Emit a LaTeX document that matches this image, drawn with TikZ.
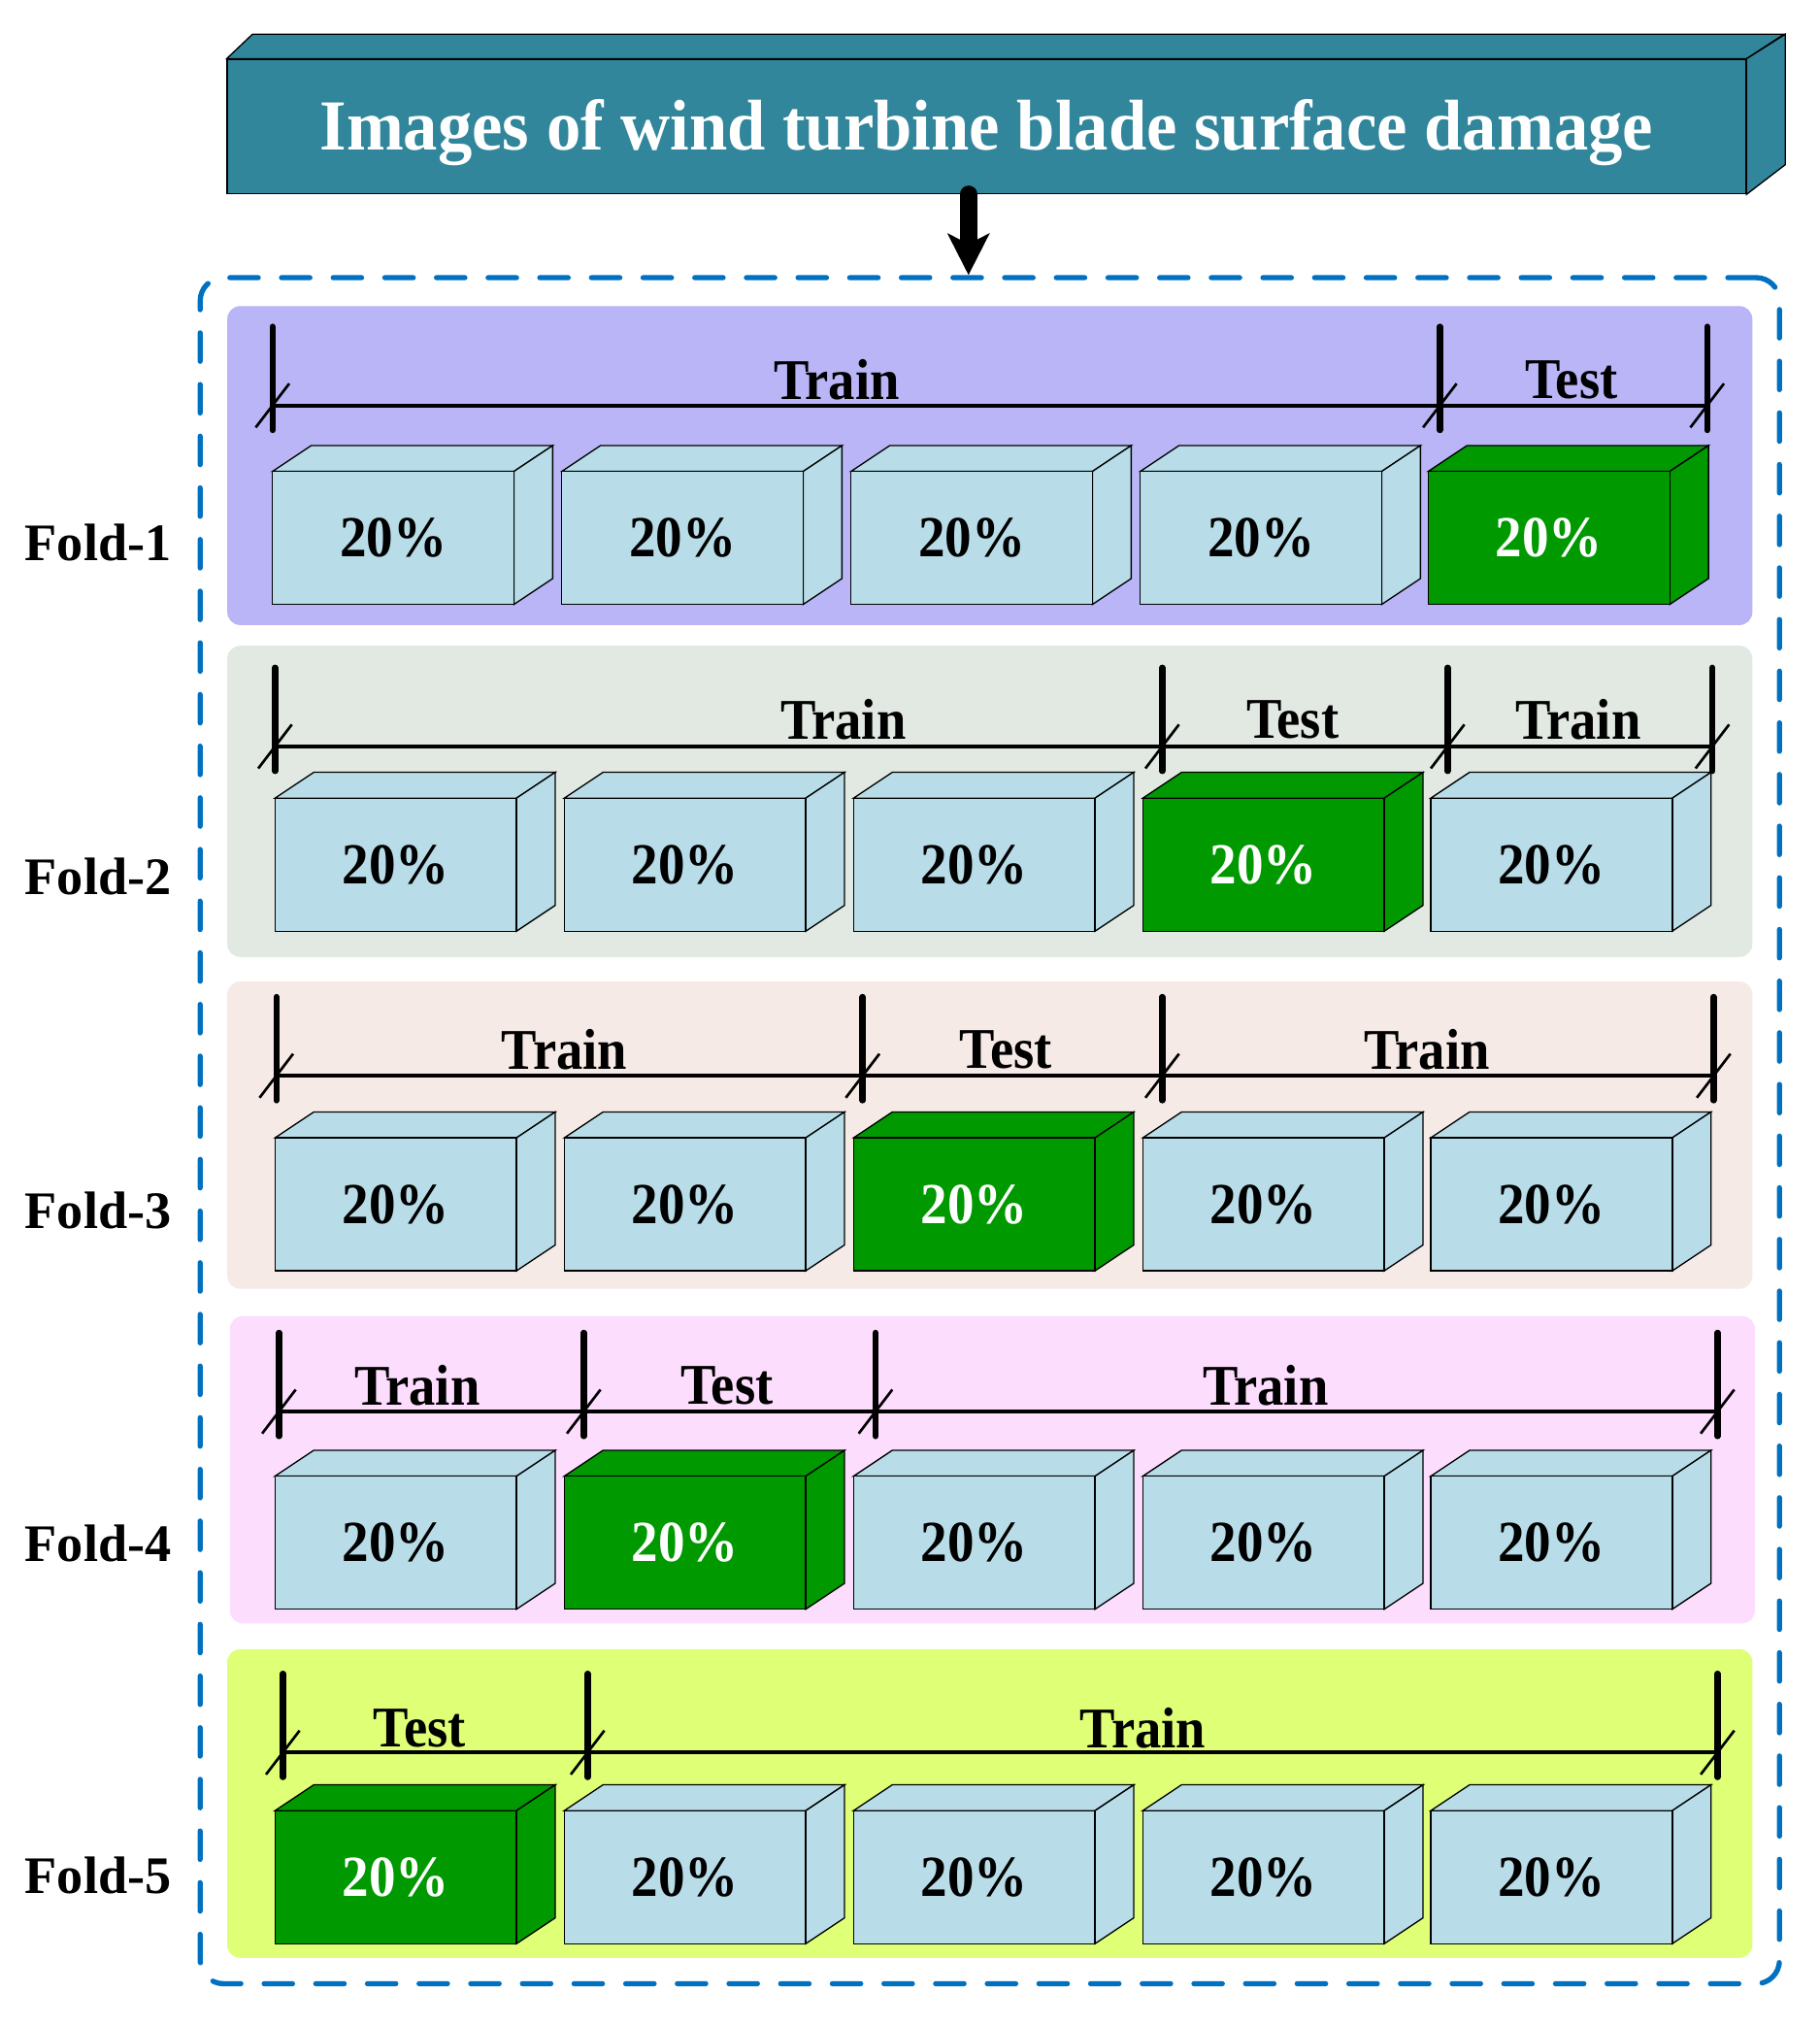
\documentclass[tikz,border=0pt]{standalone}
\usepackage{fontspec}
\setmainfont{Liberation Serif}
\usetikzlibrary{arrows.meta}
\definecolor{titleteal}{RGB}{49,134,155}
\definecolor{frameblue}{RGB}{0,112,192}
\definecolor{cubeblue}{RGB}{184,221,232}
\definecolor{testgreen}{RGB}{0,153,0}
\definecolor{foldA}{RGB}{185,181,247}
\definecolor{foldB}{RGB}{226,233,226}
\definecolor{foldC}{RGB}{246,234,230}
\definecolor{foldD}{RGB}{253,221,253}
\definecolor{foldE}{RGB}{222,255,118}
\newcommand\narrow[1]{\scalebox{0.92}[1]{#1}}
\tikzset{
  pct/.style={font=\bfseries\fontsize{22.5}{26}\selectfont, inner sep=0pt},
  lab/.style={font=\bfseries\fontsize{22.3}{26}\selectfont, inner sep=0pt},
  foldlab/.style={font=\bfseries\fontsize{20.4}{24}\selectfont, inner sep=0pt},
  edge/.style={draw=black, line width=0.5pt, line join=miter},
  panel/.style={rounded corners=5pt},
  dimline/.style={line width=1.5pt},
  tickmark/.style={line width=2.4pt, line cap=round},
  slash/.style={line width=1pt},
}
% cube: x y (front top-left) fill textcolor name
\newcommand\mycube[5]{%
  \begin{scope}[shift={(#1,#2)}]
    \filldraw[edge, fill=#3] (0,0) -- (30,-20) -- (217,-20) -- (187,0) -- cycle;
    \filldraw[edge, fill=#3] (187,0) -- (217,-20) -- (217,83) -- (187,103) -- cycle;
    \filldraw[edge, fill=#3] (0,0) rectangle (187,103);
    \node[pct, text=#4] (#5) at (93.5,51.5) {\narrow{20\%}};
  \end{scope}}
% tick: x yline
\newcommand\mytick[2]{%
  \begin{scope}[shift={(#1,#2)}]
    \draw[tickmark] (0,-61) -- (0,19);
    \draw[slash] (-13,17) -- (13,-17);
  \end{scope}}
\begin{document}
\begin{tikzpicture}[x=0.5pt,y=-0.5pt]
\useasboundingbox (0,0) rectangle (1409,1568);
\fill[white] (0,0) rectangle (1409,1568);

% title box
\node[draw=black, line width=0.5pt, fill=titleteal, minimum width=588pt, minimum height=52pt, inner sep=0pt] (title) at (764,98) {};
\filldraw[edge, fill=titleteal] (title.north west) -- ++(20,-19) -- ++(1186,0) -- (title.north east) -- cycle;
\filldraw[edge, fill=titleteal] (title.north east) -- ++(30,-19) -- ++(0,101) -- (title.south east) -- cycle;
\node[inner sep=0pt, anchor=base, text=white, font=\bfseries\fontsize{27.8}{30}\selectfont] (titletext) at (764,116) {\scalebox{0.955}[1]{Images of wind turbine blade surface damage}};

% dashed frame
\node[draw=frameblue, line width=2pt, dash pattern=on 11pt off 9pt, line cap=round, rounded corners=9pt, minimum width=611.5pt, minimum height=660.5pt, inner sep=0pt] (frame) at (766.5,875.5) {};

\coordinate (ax) at (750,0);
\draw[line width=6.8pt, line cap=round, -{Stealth[length=16pt, width=16pt, inset=4pt]}] (title.south -| ax) -- (frame.north -| ax);

% panels
\fill[foldA, panel] (176,237) rectangle (1357,484);
\fill[foldB, panel] (176,500) rectangle (1357,741);
\fill[foldC, panel] (176,760) rectangle (1357,998);
\fill[foldD, panel] (178,1019) rectangle (1359,1257);
\fill[foldE, panel] (176,1277) rectangle (1357,1516);

% fold labels
\node[foldlab] (f1) at (76,420) {Fold-1};
\node[foldlab] (f2) at (76,679) {Fold-2};
\node[foldlab] (f3) at (76,937) {Fold-3};
\node[foldlab] (f4) at (76,1195) {Fold-4};
\node[foldlab] (f5) at (76,1452) {Fold-5};

% Fold-1
\mycube{211}{365}{cubeblue}{black}{c11}
\mycube{435}{365}{cubeblue}{black}{c12}
\mycube{659}{365}{cubeblue}{black}{c13}
\mycube{883}{365}{cubeblue}{black}{c14}
\mycube{1106}{365}{testgreen}{white}{c15}
\draw[dimline] (211,314) -- (1322,314);
\mytick{211}{314}\mytick{1115}{314}\mytick{1322}{314}
\node[lab] (l11) at (648,294) {\narrow{Train}};
\node[lab] (l12) at (1217,294) {\narrow{Test}};

% Fold-2
\mycube{213}{618}{cubeblue}{black}{c21}
\mycube{437}{618}{cubeblue}{black}{c22}
\mycube{661}{618}{cubeblue}{black}{c23}
\mycube{885}{618}{testgreen}{white}{c24}
\mycube{1108}{618}{cubeblue}{black}{c25}
\draw[dimline] (213,578) -- (1326,578);
\mytick{213}{578}\mytick{900}{578}\mytick{1121}{578}\mytick{1326}{578}
\node[lab] (l21) at (653,557) {\narrow{Train}};
\node[lab] (l22) at (1001,557) {\narrow{Test}};
\node[lab] (l23) at (1222,557) {\narrow{Train}};

% Fold-3
\mycube{213}{881}{cubeblue}{black}{c31}
\mycube{437}{881}{cubeblue}{black}{c32}
\mycube{661}{881}{testgreen}{white}{c33}
\mycube{885}{881}{cubeblue}{black}{c34}
\mycube{1108}{881}{cubeblue}{black}{c35}
\draw[dimline] (214,833) -- (1327,833);
\mytick{214}{833}\mytick{668}{833}\mytick{900}{833}\mytick{1327}{833}
\node[lab] (l31) at (437,813) {\narrow{Train}};
\node[lab] (l32) at (779,813) {\narrow{Test}};
\node[lab] (l33) at (1105,813) {\narrow{Train}};

% Fold-4
\mycube{213}{1143}{cubeblue}{black}{c41}
\mycube{437}{1143}{testgreen}{white}{c42}
\mycube{661}{1143}{cubeblue}{black}{c43}
\mycube{885}{1143}{cubeblue}{black}{c44}
\mycube{1108}{1143}{cubeblue}{black}{c45}
\draw[dimline] (216,1093) -- (1330,1093);
\mytick{216}{1093}\mytick{452}{1093}\mytick{678}{1093}\mytick{1330}{1093}
\node[lab] (l41) at (323,1073) {\narrow{Train}};
\node[lab] (l42) at (563,1073) {\narrow{Test}};
\node[lab] (l43) at (980,1073) {\narrow{Train}};

% Fold-5
\mycube{213}{1402}{testgreen}{white}{c51}
\mycube{437}{1402}{cubeblue}{black}{c52}
\mycube{661}{1402}{cubeblue}{black}{c53}
\mycube{885}{1402}{cubeblue}{black}{c54}
\mycube{1108}{1402}{cubeblue}{black}{c55}
\draw[dimline] (219,1357) -- (1330,1357);
\mytick{219}{1357}\mytick{455}{1357}\mytick{1330}{1357}
\node[lab] (l51) at (325,1338) {\narrow{Test}};
\node[lab] (l52) at (885,1338) {\narrow{Train}};
\end{tikzpicture}
\end{document}
